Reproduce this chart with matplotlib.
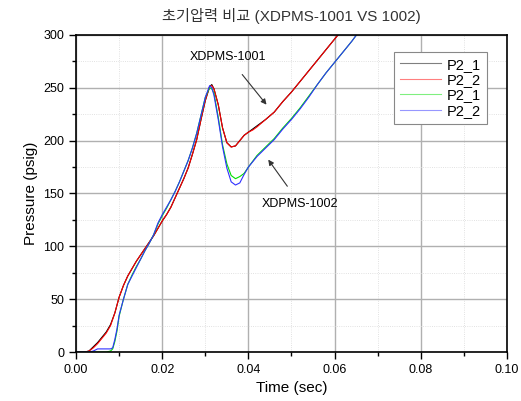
import matplotlib
matplotlib.use("Agg")
import matplotlib.pyplot as plt
from matplotlib.ticker import MultipleLocator

plt.rcParams['font.family'] = ['Liberation Sans', 'Noto Sans CJK KR']

# XDPMS-1001 (P2_1 black, P2_2 red)
t_1001 = [0, 0.002, 0.003, 0.004, 0.005, 0.006, 0.007, 0.008, 0.009, 0.010,
          0.011, 0.012, 0.013, 0.014, 0.015, 0.016, 0.017, 0.018, 0.019, 0.020,
          0.021, 0.022, 0.023, 0.024, 0.025, 0.026, 0.027, 0.028, 0.029, 0.030,
          0.031, 0.0315, 0.032, 0.033, 0.034, 0.035, 0.036, 0.037, 0.038, 0.039,
          0.040, 0.041, 0.042, 0.044, 0.046, 0.048, 0.050, 0.052, 0.054, 0.056,
          0.058, 0.060, 0.061]
p2_1_1001 = [0, 0, 1, 5, 9, 14, 19, 26, 37, 52,
             63, 72, 79, 86, 92, 98, 104, 110, 117, 124,
             130, 137, 146, 155, 164, 174, 187, 201, 220, 238,
             251, 253, 249, 234, 212, 198, 194, 195, 200, 205,
             208, 211, 214, 220, 227, 237, 246, 256, 266, 276,
             286, 296, 301]
p2_2_1001 = [0, 0, 1, 4, 8, 13, 18, 25, 37, 52,
             63, 72, 79, 86, 92, 98, 104, 110, 117, 124,
             130, 137, 146, 155, 164, 174, 187, 201, 220, 238,
             251, 252, 249, 234, 212, 198, 194, 195, 200, 205,
             208, 210, 213, 220, 227, 237, 246, 256, 266, 276,
             286, 296, 301]

# XDPMS-1002 (P2_1 green, P2_2 blue)
t_1002 = [0, 0.003, 0.004, 0.005, 0.006, 0.007, 0.008, 0.0085, 0.009, 0.0095,
          0.010, 0.011, 0.012, 0.013, 0.014, 0.015, 0.016, 0.017, 0.018, 0.019,
          0.020, 0.021, 0.022, 0.023, 0.024, 0.025, 0.026, 0.027, 0.028, 0.029,
          0.030, 0.031, 0.0315, 0.032, 0.033, 0.034, 0.035, 0.036, 0.037, 0.038,
          0.039, 0.040, 0.042, 0.044, 0.046, 0.048, 0.050, 0.052, 0.054, 0.056,
          0.058, 0.060, 0.062, 0.064, 0.066]
p2_1_1002 = [0, 0, 0, 0, 0, 0, 1, 3, 10, 20,
             34, 50, 64, 73, 81, 88, 96, 103, 111, 121,
             129, 136, 144, 152, 161, 171, 181, 193, 207, 224,
             241, 250, 249, 245, 222, 196, 178, 167, 164, 166,
             169, 175, 186, 194, 202, 212, 221, 231, 242, 253,
             264, 274, 284, 294, 305]
p2_2_1002 = [0, 0, 1, 3, 3, 3, 3, 4, 12, 22,
             35, 50, 64, 72, 80, 88, 96, 103, 111, 122,
             130, 137, 144, 152, 161, 171, 181, 193, 207, 224,
             241, 252, 250, 243, 220, 194, 174, 161, 158, 160,
             168, 175, 185, 193, 201, 211, 220, 230, 241, 253,
             264, 274, 284, 294, 305]

fig = plt.figure(figsize=(5.21, 4.01), dpi=100)
ax = fig.add_axes([0.146, 0.122, 0.827, 0.791])

ax.plot(t_1001, p2_1_1001, color='black', lw=0.8, label='P2_1')
ax.plot(t_1001, p2_2_1001, color='red', lw=0.8, label='P2_2')
ax.plot(t_1002, p2_1_1002, color='#00e000', lw=0.8, label='P2_1')
ax.plot(t_1002, p2_2_1002, color='#3030ff', lw=0.8, label='P2_2')

ax.set_xlim(0, 0.10)
ax.set_ylim(0, 300)
ax.xaxis.set_major_locator(MultipleLocator(0.02))
ax.xaxis.set_minor_locator(MultipleLocator(0.01))
ax.yaxis.set_major_locator(MultipleLocator(50))
ax.yaxis.set_minor_locator(MultipleLocator(25))
ax.xaxis.set_major_formatter(plt.FormatStrFormatter('%.2f'))
ax.tick_params(which='both', direction='out', top=False, right=False, labelsize=9)
ax.tick_params(which='major', length=5, width=1)
ax.tick_params(which='minor', length=3, width=1)

ax.grid(which='major', color='#b0b0b0', lw=1)
ax.grid(which='minor', color='#d8d8d8', lw=0.6, ls=':')
ax.set_axisbelow(True)
for s in ax.spines.values():
    s.set_linewidth(1.2)

ax.set_xlabel('Time (sec)', fontsize=11)
ax.set_ylabel('Pressure (psig)', fontsize=11)
ax.set_title('초기압력 비교 (XDPMS-1001 VS 1002)', fontsize=11, color='#333333', pad=10)

ax.annotate('XDPMS-1001', xy=(0.0442, 234), xytext=(0.0353, 279),
            ha='center', va='center', fontsize=9,
            arrowprops=dict(arrowstyle='-|>', color='#333333', lw=0.8,
                            shrinkA=8, shrinkB=0, mutation_scale=8))
ax.annotate('XDPMS-1002', xy=(0.0446, 182), xytext=(0.052, 140),
            ha='center', va='center', fontsize=9,
            arrowprops=dict(arrowstyle='-|>', color='#333333', lw=0.8,
                            shrinkA=8, shrinkB=0, mutation_scale=8))

leg = ax.legend(loc='upper right', bbox_to_anchor=(0.97, 0.97), fontsize=10.5,
                frameon=True, fancybox=False, framealpha=1, edgecolor='#888888',
                handlelength=2.8, labelspacing=0.1, borderpad=0.4, handletextpad=0.4)
leg.get_frame().set_linewidth(0.8)
for h in leg.get_lines():
    h.set_alpha(0.5)

fig.savefig('out.png', dpi=100)
